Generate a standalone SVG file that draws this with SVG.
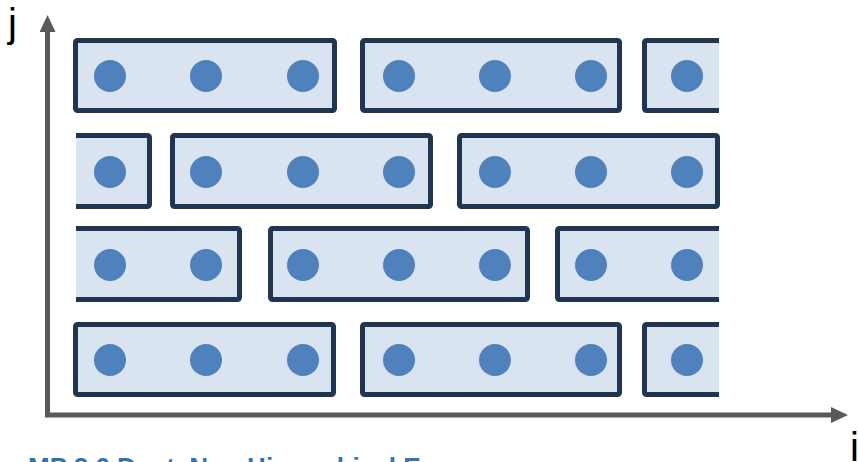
<svg xmlns="http://www.w3.org/2000/svg" width="858" height="462" viewBox="0 0 858 462">
<style>
.box{fill:#DAE3F0;stroke:#1F3550;stroke-width:5;stroke-linejoin:round}
.dot{fill:#4F81BD}
.axis{stroke:#595959;stroke-width:5;fill:none}
.lbl{font-family:"Liberation Sans",Arial,sans-serif;font-size:40px;fill:#000}
.cap{font-family:"Liberation Sans",Arial,sans-serif;font-size:26px;font-weight:bold;fill:#2E75B6}
</style>
<defs>
<marker id="arr" markerUnits="userSpaceOnUse" markerWidth="17" markerHeight="16" refX="0" refY="8" orient="auto">
<path d="M0,0 L17,8 L0,16 z" fill="#595959"/>
</marker>
<clipPath id="clipR"><rect x="0" y="0" width="719" height="462"/></clipPath>
<clipPath id="clipL"><rect x="76" y="0" width="782" height="462"/></clipPath>
</defs>
<g id="connectors">
<line class="axis" x1="47.5" y1="415" x2="47.5" y2="32" marker-end="url(#arr)"/>
<line class="axis" x1="45" y1="415" x2="831" y2="415" marker-end="url(#arr)"/>
</g>
<g id="row1">
<g id="r1b1"><rect class="box" x="75.5" y="40.5" width="259" height="70" rx="2"/><circle class="dot" cx="110" cy="76" r="16"/><circle class="dot" cx="206" cy="76" r="16"/><circle class="dot" cx="303" cy="76" r="16"/></g>
<g id="r1b2"><rect class="box" x="362.5" y="40.5" width="257" height="70" rx="2"/><circle class="dot" cx="399" cy="76" r="16"/><circle class="dot" cx="495" cy="76" r="16"/><circle class="dot" cx="591" cy="76" r="16"/></g>
<g id="r1b3" clip-path="url(#clipR)"><rect class="box" x="644.5" y="40.5" width="120" height="70" rx="2"/><circle class="dot" cx="687" cy="76" r="16"/></g>
</g>
<g id="row2">
<g id="r2b1" clip-path="url(#clipL)"><rect class="box" x="30" y="135.5" width="119.5" height="71" rx="2"/><circle class="dot" cx="110" cy="172" r="16"/></g>
<g id="r2b2"><rect class="box" x="172.5" y="135.5" width="258" height="71" rx="2"/><circle class="dot" cx="206" cy="172" r="16"/><circle class="dot" cx="303" cy="172" r="16"/><circle class="dot" cx="399" cy="172" r="16"/></g>
<g id="r2b3"><rect class="box" x="459.5" y="135.5" width="258" height="71" rx="2"/><circle class="dot" cx="495" cy="172" r="16"/><circle class="dot" cx="591" cy="172" r="16"/><circle class="dot" cx="687" cy="172" r="16"/></g>
</g>
<g id="row3">
<g id="r3b1" clip-path="url(#clipL)"><rect class="box" x="30" y="228.5" width="209.5" height="71" rx="2"/><circle class="dot" cx="110" cy="265" r="16"/><circle class="dot" cx="206" cy="265" r="16"/></g>
<g id="r3b2"><rect class="box" x="270.5" y="228.5" width="257" height="71" rx="2"/><circle class="dot" cx="303" cy="265" r="16"/><circle class="dot" cx="399" cy="265" r="16"/><circle class="dot" cx="495" cy="265" r="16"/></g>
<g id="r3b3" clip-path="url(#clipR)"><rect class="box" x="557.5" y="228.5" width="200" height="71" rx="2"/><circle class="dot" cx="591" cy="265" r="16"/><circle class="dot" cx="687" cy="265" r="16"/></g>
</g>
<g id="row4">
<g id="r4b1"><rect class="box" x="75.5" y="324.5" width="258" height="70" rx="2"/><circle class="dot" cx="110" cy="360" r="16"/><circle class="dot" cx="206" cy="360" r="16"/><circle class="dot" cx="303" cy="360" r="16"/></g>
<g id="r4b2"><rect class="box" x="362.5" y="324.5" width="257" height="70" rx="2"/><circle class="dot" cx="399" cy="360" r="16"/><circle class="dot" cx="495" cy="360" r="16"/><circle class="dot" cx="591" cy="360" r="16"/></g>
<g id="r4b3" clip-path="url(#clipR)"><rect class="box" x="644.5" y="324.5" width="120" height="70" rx="2"/><circle class="dot" cx="687" cy="360" r="16"/></g>
</g>
<g id="labels">
<text class="lbl" x="8" y="37">j</text>
<text class="lbl" x="850" y="461">i</text>
<text class="cap" x="28" y="476">MP 2.0 Dept. Non Hierarchical Ex</text>
</g>
</svg>
